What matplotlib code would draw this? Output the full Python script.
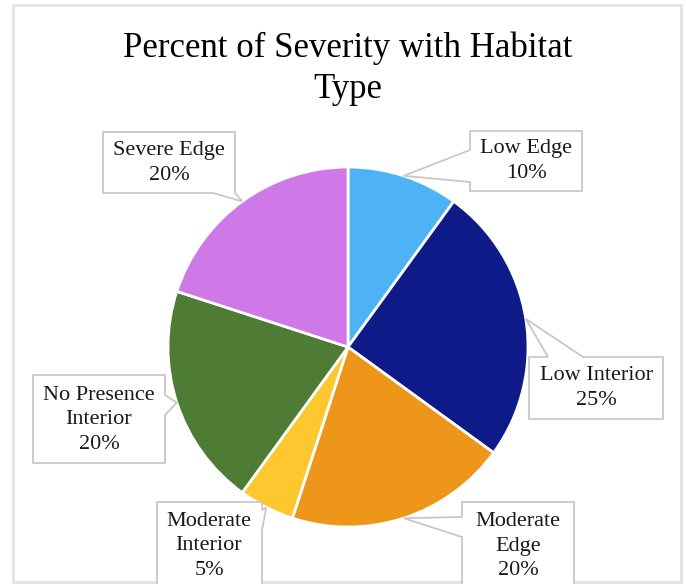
import numpy as np
import matplotlib.pyplot as plt
from matplotlib.patches import Polygon, Rectangle

# data
categories = ['Low Edge', 'Low Interior', 'Moderate\nEdge', 'Moderate\nInterior',
              'No Presence\nInterior', 'Severe Edge']
values = [10, 25, 20, 5, 20, 20]
colors = ['#4DB3F5', '#0E1A88', '#EE9619', '#FDC82F', '#4F7C34', '#CF78E8']

W, H = 686, 584
plt.rcParams['font.family'] = ['Liberation Serif', 'DejaVu Serif']

fig = plt.figure(figsize=(W / 100, H / 100), dpi=100)
ax = fig.add_axes([0, 0, 1, 1])

cx, cy, r = 348, H - 347, 180
wedges, _ = ax.pie(values, colors=colors, startangle=90, counterclock=False,
                   center=(cx, cy), radius=r, frame=True,
                   wedgeprops=dict(edgecolor='white', linewidth=2))
ax.set_xlim(0, W)
ax.set_ylim(0, H)
ax.set_aspect('equal')
ax.axis('off')

# frame around the chart
ax.add_patch(Rectangle((13, H - 582), 668, 577, fill=False,
                       edgecolor='#E4E4E4', linewidth=2, zorder=1))

ax.text(cx, H - 48, 'Percent of Severity with Habitat', ha='center', va='center',
        fontsize=25)
ax.text(cx, H - 89, 'Type', ha='center', va='center', fontsize=25)

# callout boxes: (x0, y0, x1, y1) from top-left in pixels, side of pointer, base span, text centre
callouts = [
    ((470, 131, 582, 191), 'left', (150, 182), (526, 161)),
    ((529, 357, 663, 419), 'top', (548, 583), (596, 388)),
    ((462, 502, 574, 610), 'left', (517, 537), (518, 546)),
    ((157, 502, 262, 610), 'right', (510, 530), (209, 546)),
    ((33, 375, 165, 463), 'right', (395, 415), (99, 420)),
    ((103, 132, 235, 193), 'bottom', (213, 235), (169, 163)),
]

for w, val, name, (box, side, (a, b), (tx, ty)) in zip(wedges, values, categories, callouts):
    mid = np.deg2rad((w.theta1 + w.theta2) / 2)
    tip = (cx + r * np.cos(mid), H - (cy + r * np.sin(mid)))
    x0, y0, x1, y1 = box
    pts = [(x0, y0)]
    if side == 'top':
        pts += [(a, y0), tip, (b, y0)]
    pts += [(x1, y0)]
    if side == 'right':
        pts += [(x1, a), tip, (x1, b)]
    pts += [(x1, y1)]
    if side == 'bottom':
        pts += [(b, y1), tip, (a, y1)]
    pts += [(x0, y1)]
    if side == 'left':
        pts += [(x0, b), tip, (x0, a)]
    pts = [(px, H - py) for px, py in pts]
    ax.add_patch(Polygon(pts, closed=True, facecolor='white', edgecolor='#C8C8C8',
                         linewidth=1.3, zorder=3))
    ax.text(tx, H - ty, f'{name}\n{val}%', ha='center', va='center', fontsize=16,
            linespacing=1.4, color='#1a1a1a', zorder=4)

fig.savefig('out.png', dpi=100, facecolor='white')
